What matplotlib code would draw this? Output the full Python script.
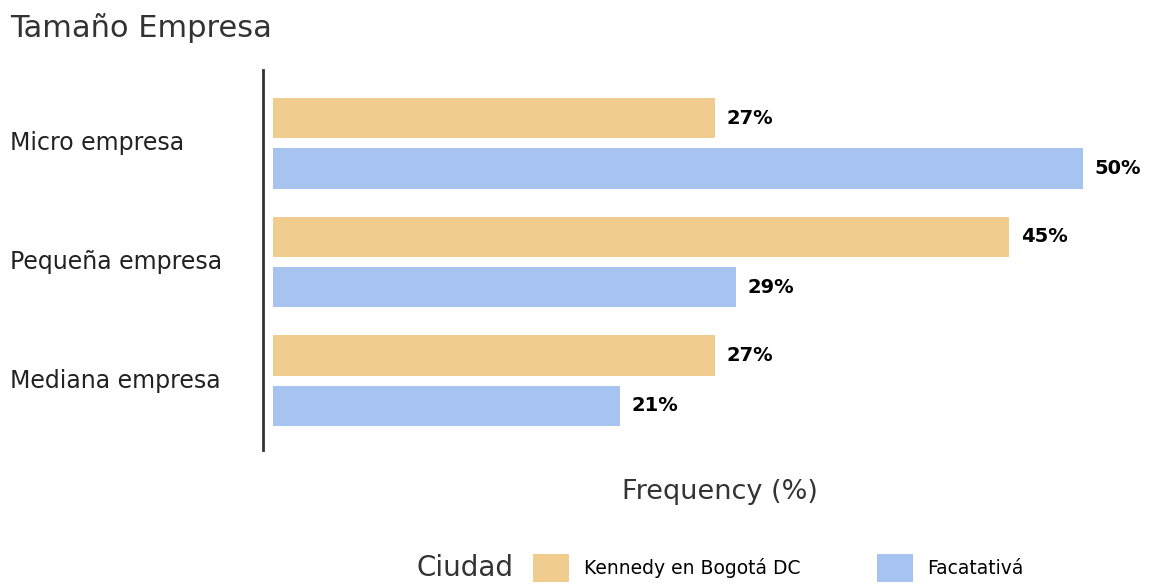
import numpy as np
import matplotlib
matplotlib.use('Agg')
import matplotlib.pyplot as plt
from matplotlib.patches import Patch

plt.rcParams['font.family'] = ['DejaVu Sans']

categorias = ['Micro empresa', 'Pequeña empresa', 'Mediana empresa']
ciudades = ['Kennedy en Bogotá DC', 'Facatativá']
kennedy = [27.27, 45.45, 27.27]
facatativa = [50.0, 28.57, 21.43]
colores = ['#F0CC8E', '#A7C4F0']

fig = plt.figure(figsize=(11.49, 5.85), dpi=100)
ax = fig.add_axes([263 / 1149, 1 - 450 / 585, (1149 - 263) / 1149, 380 / 585])

y = np.arange(len(categorias))
off = 25 / 118
h = 40 / 118
b1 = ax.barh(y - off, kennedy, height=h, color=colores[0])
b2 = ax.barh(y + off, facatativa, height=h, color=colores[1])

for bars, vals in [(b1, kennedy), (b2, facatativa)]:
    for b, v in zip(bars, vals):
        ax.text(v + 0.7, b.get_y() + b.get_height() / 2, '%d%%' % round(v),
                va='center', ha='left', fontsize=14, fontweight='bold', color='black')

ax.set_xlim(-10 / 16.2, (1149 - 273) / 16.2)
ax.set_ylim(2.585, -0.619)
ax.set_yticks(y)
ax.set_yticklabels([])
ax.tick_params(left=False, bottom=False, labelbottom=False)
for s in ['top', 'right', 'bottom']:
    ax.spines[s].set_visible(False)
ax.spines['left'].set_linewidth(2)
ax.spines['left'].set_color('#333333')

for yi, c in zip(y, categorias):
    fig.text(10 / 1149, 1 - (143 + (yi * 119)) / 585, c, ha='left', va='center',
             fontsize=17, color='#222222')

fig.text(10 / 1149, 1 - 28 / 585, 'Tamaño Empresa', ha='left', va='center',
         fontsize=22, color='#333333')
fig.text(720 / 1149, 1 - 492 / 585, 'Frequency (%)', ha='center', va='center',
         fontsize=19.5, color='#333333')

fig.text(465 / 1149, 1 - 568 / 585, 'Ciudad', ha='center', va='center',
         fontsize=20, color='#333333')
handles = [Patch(facecolor=c, edgecolor='none') for c in colores]
fig.legend(handles, ciudades, ncol=2, frameon=False, loc='center left',
           bbox_to_anchor=(516 / 1149, 1 - 568 / 585), fontsize=13.5,
           handlelength=1.9, handleheight=1.9, handletextpad=0.8, columnspacing=4.1)

fig.savefig('out.png', dpi=100)
